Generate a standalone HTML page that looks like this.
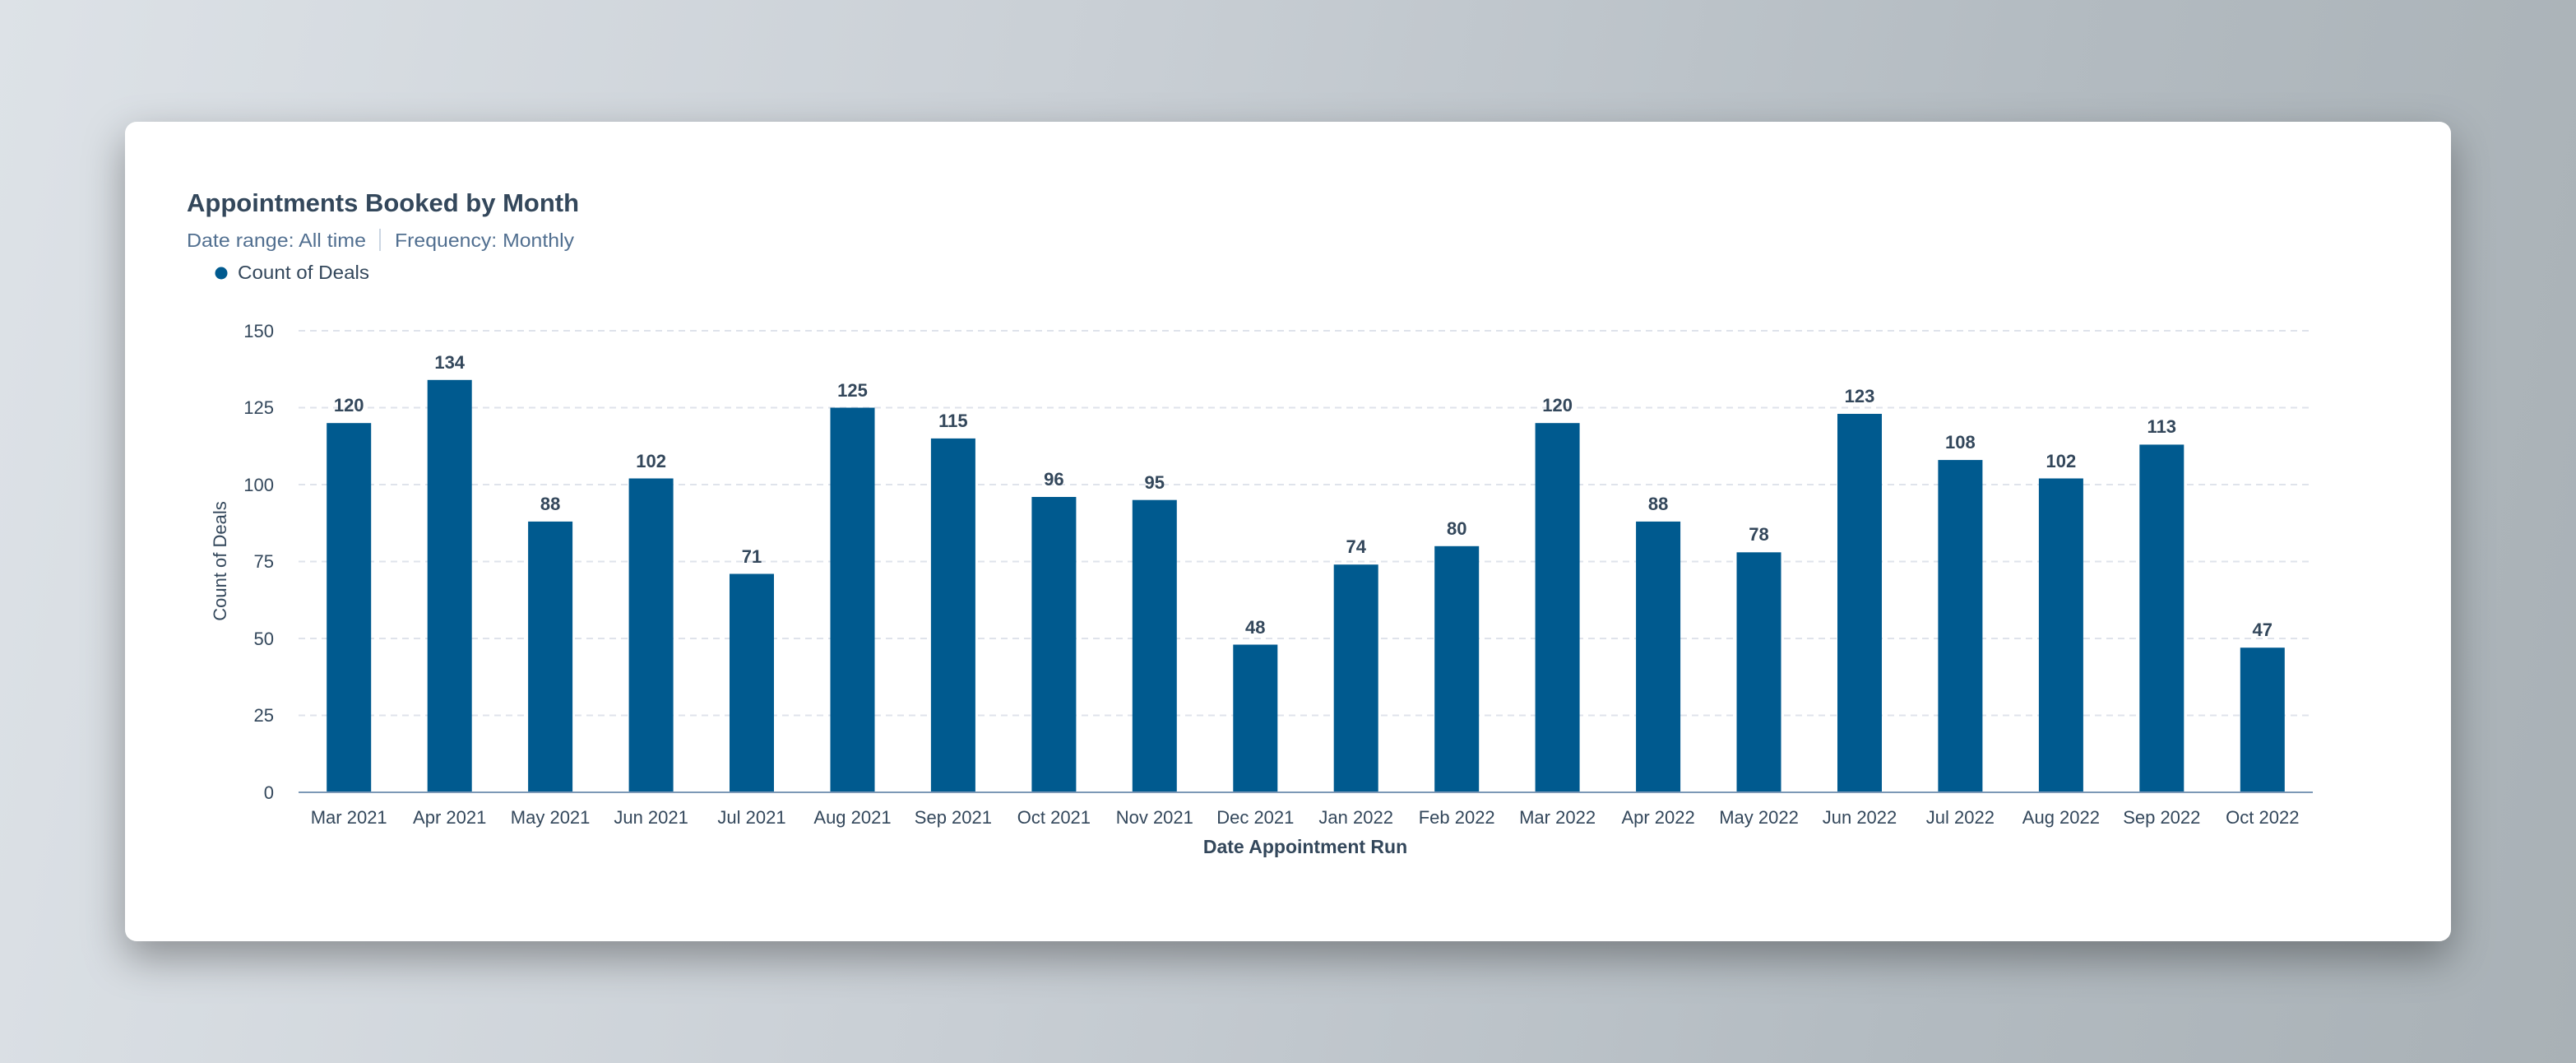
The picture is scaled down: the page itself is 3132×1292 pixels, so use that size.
<!DOCTYPE html>
<html><head><meta charset="utf-8"><style>
html,body{margin:0;padding:0}
body{width:3132px;height:1292px;overflow:hidden;background:linear-gradient(100deg,#dde2e7 0%,#c9cfd5 40%,#b3bbc1 75%,#a9b1b6 100%);position:relative;font-family:"Liberation Sans",sans-serif}
.card{position:absolute;left:152px;top:148px;width:2828px;height:996px;background:#fff;border-radius:14px;box-shadow:0 20px 50px rgba(0,0,0,0.35)}
svg{position:absolute;left:0;top:0}
</style></head><body>
<div class="card"></div>
<svg width="3132" height="1292" xmlns="http://www.w3.org/2000/svg" font-family="Liberation Sans, sans-serif">
<text x="227" y="257" font-size="31" fill="#33475b" font-weight="bold">Appointments Booked by Month</text>
<text x="227" y="300" font-size="23" fill="#516f90" textLength="218" lengthAdjust="spacingAndGlyphs">Date range: All time</text>
<line x1="462" y1="278" x2="462" y2="305" stroke="#cbd6e2" stroke-width="2"/>
<text x="480" y="300" font-size="23" fill="#516f90" textLength="218" lengthAdjust="spacingAndGlyphs">Frequency: Monthly</text>
<circle cx="269" cy="332" r="7.5" fill="#005a8f"/>
<text x="289" y="339" font-size="23" fill="#33475b" textLength="160" lengthAdjust="spacingAndGlyphs">Count of Deals</text>
<g stroke="#dfe3eb" stroke-width="2" stroke-dasharray="8,6">
<line x1="363" x2="2812" y1="402" y2="402"/><line x1="363" x2="2812" y1="495.5" y2="495.5"/><line x1="363" x2="2812" y1="589" y2="589"/><line x1="363" x2="2812" y1="682.5" y2="682.5"/><line x1="363" x2="2812" y1="776" y2="776"/><line x1="363" x2="2812" y1="869.5" y2="869.5"/>
</g>
<g font-size="22" fill="#33475b" text-anchor="end">
<text x="333" y="410">150</text><text x="333" y="503">125</text><text x="333" y="597">100</text><text x="333" y="690">75</text><text x="333" y="784">50</text><text x="333" y="877">25</text><text x="333" y="971">0</text>
</g>
<text transform="translate(275,682) rotate(-90)" font-size="22" fill="#33475b" text-anchor="middle">Count of Deals</text>
<g fill="#005a8f">
<rect x="397.2" y="514.2" width="54" height="448.8"/>
<rect x="519.7" y="461.8" width="54" height="501.2"/>
<rect x="642.1" y="633.9" width="54" height="329.1"/>
<rect x="764.6" y="581.5" width="54" height="381.5"/>
<rect x="887.0" y="697.5" width="54" height="265.5"/>
<rect x="1009.5" y="495.5" width="54" height="467.5"/>
<rect x="1131.9" y="532.9" width="54" height="430.1"/>
<rect x="1254.4" y="604.0" width="54" height="359.0"/>
<rect x="1376.8" y="607.7" width="54" height="355.3"/>
<rect x="1499.3" y="783.5" width="54" height="179.5"/>
<rect x="1621.7" y="686.2" width="54" height="276.8"/>
<rect x="1744.2" y="663.8" width="54" height="299.2"/>
<rect x="1866.6" y="514.2" width="54" height="448.8"/>
<rect x="1989.1" y="633.9" width="54" height="329.1"/>
<rect x="2111.5" y="671.3" width="54" height="291.7"/>
<rect x="2234.0" y="503.0" width="54" height="460.0"/>
<rect x="2356.4" y="559.1" width="54" height="403.9"/>
<rect x="2478.9" y="581.5" width="54" height="381.5"/>
<rect x="2601.3" y="540.4" width="54" height="422.6"/>
<rect x="2723.8" y="787.2" width="54" height="175.8"/>
</g>
<g font-size="22" font-weight="bold" fill="#33475b" text-anchor="middle">
<text x="424.2" y="500">120</text>
<text x="546.7" y="448">134</text>
<text x="669.1" y="620">88</text>
<text x="791.6" y="568">102</text>
<text x="914.0" y="684">71</text>
<text x="1036.5" y="482">125</text>
<text x="1158.9" y="519">115</text>
<text x="1281.4" y="590">96</text>
<text x="1403.8" y="594">95</text>
<text x="1526.3" y="770">48</text>
<text x="1648.7" y="672">74</text>
<text x="1771.2" y="650">80</text>
<text x="1893.6" y="500">120</text>
<text x="2016.1" y="620">88</text>
<text x="2138.5" y="657">78</text>
<text x="2261.0" y="489">123</text>
<text x="2383.4" y="545">108</text>
<text x="2505.9" y="568">102</text>
<text x="2628.3" y="526">113</text>
<text x="2750.8" y="773">47</text>
</g>
<g font-size="22" fill="#33475b" text-anchor="middle">
<text x="424.2" y="1001">Mar 2021</text>
<text x="546.7" y="1001">Apr 2021</text>
<text x="669.1" y="1001">May 2021</text>
<text x="791.6" y="1001">Jun 2021</text>
<text x="914.0" y="1001">Jul 2021</text>
<text x="1036.5" y="1001">Aug 2021</text>
<text x="1158.9" y="1001">Sep 2021</text>
<text x="1281.4" y="1001">Oct 2021</text>
<text x="1403.8" y="1001">Nov 2021</text>
<text x="1526.3" y="1001">Dec 2021</text>
<text x="1648.7" y="1001">Jan 2022</text>
<text x="1771.2" y="1001">Feb 2022</text>
<text x="1893.6" y="1001">Mar 2022</text>
<text x="2016.1" y="1001">Apr 2022</text>
<text x="2138.5" y="1001">May 2022</text>
<text x="2261.0" y="1001">Jun 2022</text>
<text x="2383.4" y="1001">Jul 2022</text>
<text x="2505.9" y="1001">Aug 2022</text>
<text x="2628.3" y="1001">Sep 2022</text>
<text x="2750.8" y="1001">Oct 2022</text>
</g>
<line x1="363" x2="2812" y1="963" y2="963" stroke="#7c98b6" stroke-width="2"/>
<text x="1587" y="1037" font-size="23" font-weight="bold" fill="#33475b" text-anchor="middle">Date Appointment Run</text>
</svg>
</body></html>
